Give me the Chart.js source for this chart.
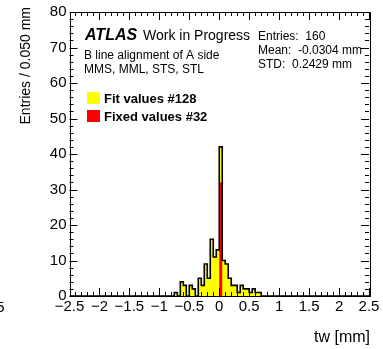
<!DOCTYPE html>
<html>
<head>
<meta charset="utf-8">
<script src="https://cdn.jsdelivr.net/npm/chart.js@4/dist/chart.umd.min.js"></script>
<style>
  html, body { margin: 0; padding: 0; background: #fff; }
</style>
</head>
<body>
<canvas id="chart1" width="383" height="349"></canvas>
<script>
// histogram binning: 100 bins of 0.05 mm from -2.5 to 2.5
var binLow = -2.5;
var binWidth = 0.05;
var nBins = 100;

// non-empty bins, given by their lower edge [mm]
var fitEdges = [-0.75, -0.65, -0.60, -0.50, -0.45, -0.35, -0.30, -0.25, -0.20, -0.15, -0.10, -0.05,
                0.00, 0.05, 0.10, 0.15, 0.20, 0.25, 0.30, 0.35, 0.40, 0.45, 0.50, 0.55, 0.60, 0.65];
var fitCounts = [1, 4, 3, 3, 2, 5, 3, 9, 5, 16, 11, 13,
                 10, 10, 9, 5, 3, 3, 1, 3, 2, 2, 1, 2, 1, 1];
var fixedEdges = [0.00];
var fixedCounts = [32];

var xTickValues = [-2.5, -2, -1.5, -1, -0.5, 0, 0.5, 1, 1.5, 2, 2.5];
var yTickValues = [0, 10, 20, 30, 40, 50, 60, 70, 80];

var FONT = '"Liberation Sans", Arial, Helvetica, sans-serif';

function fillBins(edges, counts) {
  var h = [];
  for (var i = 0; i < nBins; i++) h.push(0);
  edges.forEach(function(e, k) {
    var i = Math.round((e - binLow) / binWidth);
    h[i] += counts[k];
  });
  return h;
}

// points at bin centres, drawn as a 'middle' step so the steps fall on bin edges
function stepPoints(h) {
  var pts = [{x: binLow, y: 0}];
  h.forEach(function(v, i) {
    pts.push({x: binLow + (i + 0.5) * binWidth, y: v});
  });
  pts.push({x: binLow + nBins * binWidth, y: 0});
  return pts;
}

var fitHist = fillBins(fitEdges, fitCounts);
var fixedHist = fillBins(fixedEdges, fixedCounts);
var totalHist = fitHist.map(function(v, i) { return v + fixedHist[i]; });

function fmt(v) {
  var s = String(Math.abs(Math.round(v * 10) / 10));
  return v < 0 ? '\u2212' + s : s;
}

// ROOT style frame with ticks on all four sides, drawn over the histogram
var frame = {
  id: 'frame',
  afterDatasetsDraw: function(chart) {
    var ctx = chart.ctx, a = chart.chartArea;
    var xs = chart.scales.x, ys = chart.scales.y;
    ctx.save();
    ctx.strokeStyle = '#000';
    ctx.lineWidth = 1;
    ctx.beginPath();
    for (var k = 0; k <= 50; k++) {
      var v = -2.5 + k * 0.1;
      var px = Math.round(xs.getPixelForValue(v)) + 0.5;
      var len = (k % 5 === 0) ? 8 : 4;
      ctx.moveTo(px, a.bottom); ctx.lineTo(px, a.bottom - len);
      ctx.moveTo(px, a.top); ctx.lineTo(px, a.top + len);
    }
    for (var j = 0; j <= 40; j++) {
      var py = Math.round(ys.getPixelForValue(j * 2)) + 0.5;
      var l2 = (j % 5 === 0) ? 8 : 4;
      ctx.moveTo(a.left, py); ctx.lineTo(a.left + l2, py);
      ctx.moveTo(a.right, py); ctx.lineTo(a.right - l2, py);
    }
    ctx.stroke();
    ctx.strokeRect(Math.round(a.left) + 0.5, Math.round(a.top) + 0.5,
                   Math.round(a.right - a.left), Math.round(a.bottom - a.top));
    ctx.restore();
  },
  afterDraw: function(chart) {
    var ctx = chart.ctx;
    ctx.save();
    ctx.fillStyle = '#000';
    ctx.textBaseline = 'alphabetic';

    ctx.font = 'italic bold 16px ' + FONT;
    ctx.fillText('ATLAS', 85, 40);
    ctx.font = '14px ' + FONT;
    ctx.fillText('Work in Progress', 143, 40);

    ctx.font = '12px ' + FONT;
    ctx.fillText('B line alignment of A side', 84, 59);
    ctx.fillText('MMS, MML, STS, STL', 84, 73);
    ctx.fillText('Entries:  160', 258, 40);
    ctx.fillText('Mean:  -0.0304 mm', 258, 54);
    ctx.fillText('STD:  0.2429 mm', 258, 68);

    // legend
    ctx.fillStyle = '#ffff00';
    ctx.fillRect(87, 92, 13, 12);
    ctx.fillStyle = '#ff0000';
    ctx.fillRect(87, 110, 13, 12);
    ctx.fillStyle = '#000';
    ctx.font = 'bold 13px ' + FONT;
    ctx.fillText('Fit values #128', 104, 103);
    ctx.fillText('Fixed values #32', 104, 121);

    // axis titles
    ctx.font = '16px ' + FONT;
    ctx.textAlign = 'right';
    ctx.fillText('tw [mm]', 370, 342);
    ctx.font = '15px ' + FONT;
    ctx.fillText('5', 4.5, 312);

    ctx.save();
    ctx.translate(26, 7);
    ctx.rotate(-Math.PI / 2);
    ctx.font = '14px ' + FONT;
    ctx.textAlign = 'right';
    ctx.textBaseline = 'middle';
    ctx.fillText('Entries / 0.050 mm', 0, 0);
    ctx.restore();

    ctx.restore();
  }
};

var ctx = document.getElementById('chart1').getContext('2d');
var chart = new Chart(ctx, {
  type: 'line',
  data: {
    datasets: [
      {
        label: 'Fit values #128',
        data: stepPoints(totalHist),
        stepped: 'middle',
        fill: 'origin',
        backgroundColor: '#ffff00',
        borderWidth: 0,
        pointRadius: 0,
        order: 3
      },
      {
        label: 'Fixed values #32',
        data: stepPoints(fixedHist),
        stepped: 'middle',
        fill: 'origin',
        backgroundColor: '#ff0000',
        borderWidth: 0,
        pointRadius: 0,
        order: 2
      },
      {
        label: 'outline',
        data: stepPoints(totalHist),
        stepped: 'middle',
        fill: false,
        borderColor: '#000',
        borderWidth: 1.6,
        pointRadius: 0,
        order: 1
      }
    ]
  },
  options: {
    responsive: false,
    animation: false,
    layout: { padding: { top: 9, right: 14, left: 0, bottom: 0 } },
    plugins: {
      legend: { display: false },
      tooltip: { enabled: false }
    },
    scales: {
      x: {
        type: 'linear',
        min: -2.5,
        max: 2.5,
        afterBuildTicks: function(s) {
          s.ticks = xTickValues.map(function(v) { return {value: v}; });
        },
        afterFit: function(s) { s.height = 53; },
        grid: { display: false, drawTicks: false },
        border: { display: false },
        ticks: {
          autoSkip: false,
          maxRotation: 0,
          padding: 2,
          color: '#000',
          font: { family: FONT, size: 15 },
          callback: function(v) { return fmt(v); }
        }
      },
      y: {
        min: 0,
        max: 80,
        afterBuildTicks: function(s) {
          s.ticks = yTickValues.map(function(v) { return {value: v}; });
        },
        afterFit: function(s) { s.width = 69.5; },
        grid: { display: false, drawTicks: false },
        border: { display: false },
        ticks: {
          padding: 3,
          color: '#000',
          font: { family: FONT, size: 15 }
        }
      }
    }
  },
  plugins: [frame]
});
</script>
</body>
</html>
